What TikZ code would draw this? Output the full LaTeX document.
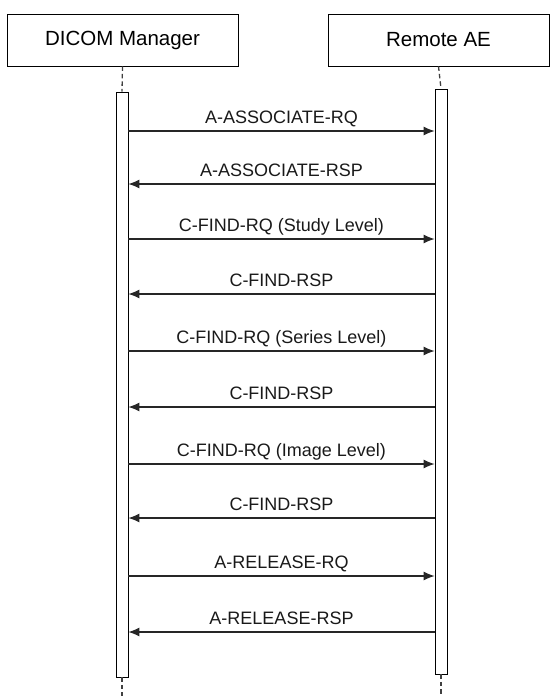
\documentclass[tikz,border=0pt]{standalone}
\usepackage{fontspec}
\setmainfont{Liberation Sans}
\usetikzlibrary{positioning,arrows.meta}
\tikzset{
  actor/.style={draw,thick,minimum height=52pt,inner sep=0pt,
                font=\fontsize{20.5}{24}\selectfont,fill=white},
  actbar/.style={draw,thick,minimum width=12pt,inner sep=0pt,fill=white},
  lifeline/.style={line width=1.3pt,dash pattern=on 4.5pt off 3pt,black!75},
  msg/.style={-{Latex[length=11pt,width=9pt]},line width=1.1pt,black!85},
  msglabel/.style={font=\fontsize{18}{21}\selectfont,anchor=base,yshift=8pt,black!90},
}
\begin{document}
\begin{tikzpicture}[x=1pt,y=-1pt]
  \useasboundingbox (0,0) rectangle (550,696);
  % --- participants ---
  \node[actor,minimum width=231pt] (mgr) at (122.5,40) {DICOM Manager};
  \node[actor,minimum width=221pt] (rae) at (438.5,40) {Remote AE};
  % --- activation bars ---
  \node[actbar,minimum height=585pt] (mgrbar) at (122,384.5) {};
  \node[actbar,minimum height=585pt] (raebar) at (441,381.5) {};
  \coordinate (mgrend) at (122,696);
  \coordinate (raeend) at (441,696);
  % --- lifelines ---
  \draw[lifeline] (mgr.south) -- (mgrbar.north);
  \draw[lifeline] (rae.south) -- (raebar.north);
  \draw[lifeline] (mgrbar.south) -- (mgrend);
  \draw[lifeline] (raebar.south) -- (raeend);
  % --- messages (1 = to remote, 0 = back) ---
  \foreach \y/\dir/\lab in {131/1/A-ASSOCIATE-RQ,184/0/A-ASSOCIATE-RSP,
      239/1/C-FIND-RQ (Study Level),294/0/C-FIND-RSP,
      351/1/C-FIND-RQ (Series Level),407/0/C-FIND-RSP,
      464/1/C-FIND-RQ (Image Level),518/0/C-FIND-RSP,
      576/1/A-RELEASE-RQ,632/0/A-RELEASE-RSP} {
    \ifnum\dir=1
      \draw[msg] (mgrbar.east |- 0,\y) -- node[msglabel]{\lab} (raebar.west |- 0,\y);
    \else
      \draw[msg] (raebar.west |- 0,\y) -- node[msglabel]{\lab} (mgrbar.east |- 0,\y);
    \fi
  }
\end{tikzpicture}
\end{document}
